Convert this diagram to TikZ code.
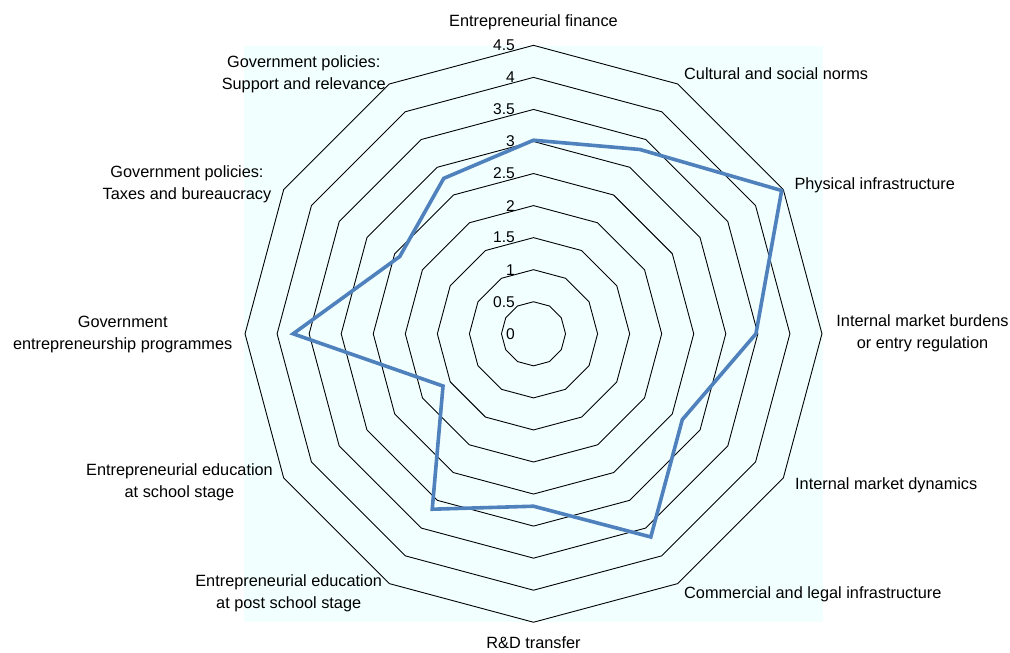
\documentclass[tikz,border=0pt]{standalone}
\usepackage{fontspec}
\setmainfont{Liberation Sans}
\definecolor{plotbg}{HTML}{F2FFFF}
\definecolor{serieblue}{HTML}{4F81BD}
\begin{document}
\begin{tikzpicture}[x=1pt,y=1pt,
  ring/.style={draw=black,line width=0.9pt,line join=miter},
  serie/.style={draw=serieblue,line width=3.6pt,line join=miter},
  lab/.style={font=\fontsize{16.3}{22}\selectfont,inner sep=0pt,align=center,text=black},
  ticklab/.style={font=\fontsize{15.6}{18}\selectfont,inner sep=0pt,anchor=east,text=black}]
\useasboundingbox (0,0) rectangle (1010,653);
\fill[plotbg] (244,31) rectangle (823,607);
\begin{scope}[shift={(533.5,319.2)}]
  % rings
  \foreach \k in {1,...,9}{
    \draw[ring] (90:{\k*32.05pt}) \foreach \i in {1,...,11}{ -- ({90-30*\i}:{\k*32.05pt})} -- cycle;
  }
  % data points
  \foreach \v [count=\i from 0] in {3.02,3.32,4.47,3.47,2.68,3.66,2.69,3.16,1.63,3.75,2.41,2.80}{
    \coordinate (p\i) at ({90-30*\i}:{\v*64.1pt});
  }
  \draw[serie] (p0) -- (p1) -- (p2) -- (p3) -- (p4) -- (p5) -- (p6) -- (p7) -- (p8) -- (p9) -- (p10) -- (p11) -- cycle;
  % tick labels
  \foreach \k/\t in {0/0,1/0.5,2/1,3/1.5,4/2,5/2.5,6/3,7/3.5,8/4,9/4.5}{
    \node[ticklab] (t\k) at (-18.5,{\k*32.05}) {\t};
  }
\end{scope}
% category labels
\node[lab] (l0) at (533.5,631) {Entrepreneurial finance};
\node[lab,anchor=west] (l1) at (684,579) {Cultural and social norms};
\node[lab,anchor=west] (l2) at (794.3,467.5) {Physical infrastructure};
\node[lab] (l3) at (922.5,320) {Internal market burdens\\or entry regulation};
\node[lab,anchor=west] (l4) at (795,168) {Internal market dynamics};
\node[lab,anchor=west] (l5) at (684,59) {Commercial and legal infrastructure};
\node[lab] (l6) at (533.5,10) {R\&D transfer};
\node[lab] (l7) at (288.7,59.7) {Entrepreneurial education\\at post school stage};
\node[lab] (l8) at (179.5,170.5) {Entrepreneurial education\\at school stage};
\node[lab] (l9) at (122.7,318.7) {Government\\entrepreneurship programmes};
\node[lab] (l10) at (187,469.2) {Government policies:\\Taxes and bureaucracy};
\node[lab] (l11) at (303.8,579) {Government policies:\\Support and relevance};
\end{tikzpicture}
\end{document}
